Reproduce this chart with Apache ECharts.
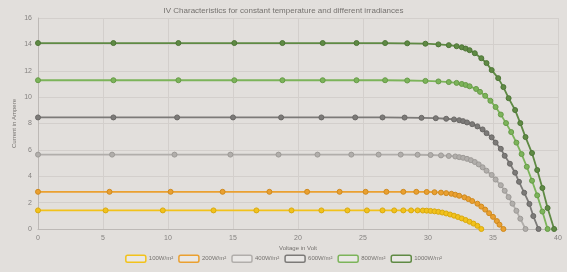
<!DOCTYPE html>
<html>
<head>
<meta charset="utf-8">
<script src="https://cdn.jsdelivr.net/npm/echarts@6/dist/echarts.min.js"></script>
<style>
  html, body { margin: 0; padding: 0; background: #e2dfdc; }
  #chart { width: 567px; height: 272px; }
</style>
</head>
<body>
<div id="chart"></div>
<script>
// irradiance labels
const names = ['100W/m²', '200W/m²', '400W/m²', '600W/m²', '800W/m²', '1000W/m²']
const colors = ['#f2c21b', '#eaa030', '#b1aeab', '#7c7a78', '#7cb45a', '#5f8a44']
const rims = ['#d9a90f', '#cf8a1f', '#9d9a97', '#6a6866', '#679b48', '#4e7637']

// voltage (V) and current (A)
const v100 = [0, 5.2, 9.6, 13.5, 16.8, 19.5, 21.8, 23.8, 25.3, 26.5, 27.4, 28.1, 28.7, 29.2, 29.6, 29.9, 30.2, 30.5, 30.8, 31.1, 31.4, 31.7, 32.0, 32.3, 32.6, 32.9, 33.2, 33.5, 33.8, 34.1]
const i100 = [1.41, 1.41, 1.41, 1.41, 1.41, 1.41, 1.41, 1.41, 1.41, 1.41, 1.41, 1.41, 1.41, 1.41, 1.40, 1.39, 1.37, 1.34, 1.30, 1.25, 1.18, 1.10, 1.01, 0.91, 0.80, 0.68, 0.55, 0.41, 0.24, 0]

const v200 = [0, 5.5, 10.2, 14.2, 17.8, 20.7, 23.2, 25.2, 26.8, 28.1, 29.1, 29.9, 30.5, 31.0, 31.4, 31.8, 32.1, 32.4, 32.8, 33.1, 33.4, 33.8, 34.1, 34.4, 34.7, 35.0, 35.3, 35.5, 35.8]
const i200 = [2.82, 2.82, 2.82, 2.82, 2.82, 2.82, 2.82, 2.82, 2.82, 2.82, 2.82, 2.81, 2.79, 2.76, 2.72, 2.67, 2.60, 2.52, 2.40, 2.27, 2.12, 1.92, 1.70, 1.47, 1.20, 0.92, 0.60, 0.33, 0]

const v400 = [0, 5.7, 10.5, 14.8, 18.5, 21.5, 24.1, 26.2, 27.9, 29.2, 30.2, 31.0, 31.6, 32.1, 32.4, 32.7, 33.0, 33.3, 33.6, 33.9, 34.2, 34.5, 34.9, 35.2, 35.6, 35.9, 36.2, 36.5, 36.8, 37.1, 37.5]
const i400 = [5.64, 5.64, 5.64, 5.64, 5.64, 5.64, 5.64, 5.64, 5.64, 5.63, 5.61, 5.58, 5.54, 5.50, 5.45, 5.40, 5.32, 5.22, 5.08, 4.90, 4.68, 4.42, 4.10, 3.75, 3.32, 2.90, 2.42, 1.92, 1.38, 0.78, 0]

const v600 = [0, 5.8, 10.7, 15.0, 18.7, 21.8, 24.4, 26.5, 28.2, 29.5, 30.6, 31.4, 32.0, 32.4, 32.7, 33.0, 33.4, 33.8, 34.2, 34.5, 34.9, 35.2, 35.6, 35.9, 36.3, 36.7, 37.0, 37.4, 37.8, 38.1, 38.5]
const i600 = [8.46, 8.46, 8.46, 8.46, 8.46, 8.46, 8.46, 8.46, 8.45, 8.43, 8.40, 8.36, 8.31, 8.25, 8.18, 8.08, 7.95, 7.78, 7.55, 7.27, 6.95, 6.55, 6.08, 5.55, 4.95, 4.27, 3.58, 2.75, 1.90, 0.98, 0]

const v800 = [0, 5.8, 10.8, 15.1, 18.8, 21.9, 24.5, 26.7, 28.4, 29.8, 30.8, 31.6, 32.2, 32.6, 32.9, 33.2, 33.7, 34.0, 34.4, 34.8, 35.2, 35.6, 36.0, 36.4, 36.8, 37.2, 37.6, 38.0, 38.4, 38.8, 39.2]
const i800 = [11.28, 11.28, 11.28, 11.28, 11.28, 11.28, 11.28, 11.28, 11.26, 11.23, 11.19, 11.14, 11.08, 11.00, 10.92, 10.82, 10.62, 10.40, 10.10, 9.72, 9.25, 8.68, 8.03, 7.35, 6.55, 5.68, 4.72, 3.66, 2.55, 1.32, 0]

const v1000 = [0, 5.8, 10.8, 15.1, 18.8, 21.9, 24.5, 26.7, 28.4, 29.8, 30.8, 31.6, 32.2, 32.6, 32.9, 33.2, 33.6, 34.1, 34.5, 34.9, 35.4, 35.8, 36.2, 36.7, 37.1, 37.5, 38.0, 38.4, 38.8, 39.2, 39.7]
const i1000 = [14.1, 14.1, 14.1, 14.1, 14.1, 14.1, 14.1, 14.1, 14.08, 14.05, 14.00, 13.94, 13.86, 13.78, 13.68, 13.56, 13.33, 12.95, 12.58, 12.05, 11.44, 10.76, 9.92, 9.02, 8.03, 6.97, 5.76, 4.47, 3.11, 1.59, 0]

const voltages = [v100, v200, v400, v600, v800, v1000]
const currents = [i100, i200, i400, i600, i800, i1000]

const xTicks = { min: 0, max: 40, interval: 5 }
const yTicks = { min: 0, max: 16, interval: 2 }

const chart = echarts.init(document.getElementById('chart'))

const series = names.map((name, k) => ({
  name,
  type: 'line',
  symbol: 'circle',
  symbolSize: 5,
  showSymbol: true,
  lineStyle: { width: 1.8, color: colors[k] },
  itemStyle: { color: colors[k], borderColor: rims[k], borderWidth: 1 },
  emphasis: { disabled: true },
  data: voltages[k].map((v, j) => [v, currents[k][j]])
}))

chart.setOption({
  backgroundColor: '#e2dfdc',
  animation: false,
  textStyle: { fontFamily: 'Liberation Sans, Arial, sans-serif' },
  title: {
    text: 'IV Characteristics for constant temperature and different irradiances',
    left: 'center',
    top: 2,
    textStyle: { fontSize: 8, fontWeight: 'normal', color: '#75726f' }
  },
  legend: {
    bottom: 4,
    left: 'center',
    itemWidth: 20,
    itemHeight: 7,
    itemGap: 5,
    icon: 'roundRect',
    textStyle: { fontSize: 6, color: '#75726f', padding: [0, 0, 0, -2] },
    data: names.map((name, k) => ({
      name,
      itemStyle: { color: 'rgba(255,255,255,0.25)', borderColor: colors[k], borderWidth: 1.5 }
    }))
  },
  grid: { left: 38, right: 9, top: 18, bottom: 43 },
  xAxis: {
    type: 'value',
    min: xTicks.min,
    max: xTicks.max,
    interval: xTicks.interval,
    name: 'Voltage in Volt',
    nameLocation: 'middle',
    nameGap: 16,
    nameMoveOverlap: false,
    nameTextStyle: { fontSize: 6, color: '#75726f' },
    axisLine: { lineStyle: { color: '#bdb9b6' } },
    axisTick: { show: false },
    axisLabel: { fontSize: 7, color: '#858280', margin: 6 },
    splitLine: { lineStyle: { color: '#d3cfcc' } }
  },
  yAxis: {
    type: 'value',
    min: yTicks.min,
    max: yTicks.max,
    interval: yTicks.interval,
    name: 'Current in Ampere',
    nameLocation: 'middle',
    nameGap: 21,
    nameMoveOverlap: false,
    nameTextStyle: { fontSize: 6, color: '#75726f' },
    axisLine: { show: true, lineStyle: { color: '#bdb9b6' } },
    axisTick: { show: false },
    axisLabel: { fontSize: 7, color: '#858280', margin: 6 },
    splitLine: { lineStyle: { color: '#d3cfcc' } }
  },
  series
})
</script>
</body>
</html>
